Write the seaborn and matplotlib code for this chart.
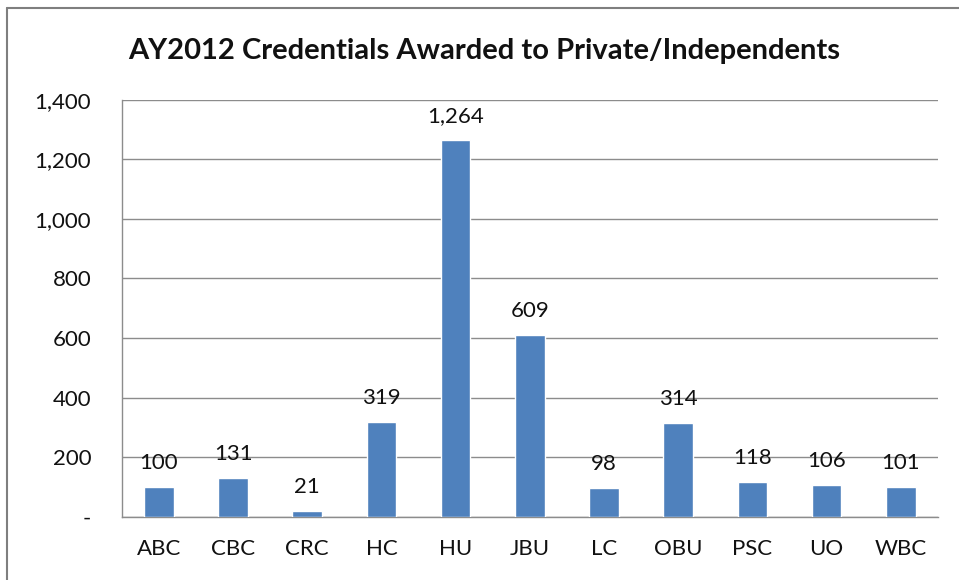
import numpy as np
import pandas as pd
import seaborn as sns
import matplotlib.pyplot as plt
import matplotlib.ticker as ticker
from matplotlib.lines import Line2D

# data
schools = ['ABC', 'CBC', 'CRC', 'HC', 'HU', 'JBU', 'LC', 'OBU', 'PSC', 'UO', 'WBC']
credentials = [100, 131, 21, 319, 1264, 609, 98, 314, 118, 106, 101]

df = pd.DataFrame({'school': schools, 'credentials': credentials})

sns.set_style('white')
plt.rcParams['font.family'] = ['Lato', 'DejaVu Sans']

fig = plt.figure(figsize=(9.59, 5.80), dpi=100)
ax = fig.add_axes([0.127, 0.109, 0.851, 0.719])

grid_col = '#8c8c8c'
sns.barplot(ax=ax, data=df, x='school', y='credentials', color='#4f81bd',
            saturation=1, width=0.4, zorder=3)

# value labels above bars
for p, v in zip(ax.patches, credentials):
    ax.annotate(f'{v:,}', xy=(p.get_x() + p.get_width() / 2, p.get_height()),
                xytext=(0, 10), textcoords='offset points',
                ha='center', va='bottom', fontsize=16, color='#111111')

ax.set_ylim(0, 1400)
ax.set_xlim(-0.5, len(schools) - 0.5)
ax.yaxis.set_major_locator(ticker.MultipleLocator(200))
ax.yaxis.set_major_formatter(ticker.FuncFormatter(lambda v, _: '-' if v == 0 else f'{v:,.0f}'))
ax.yaxis.grid(True, color=grid_col, lw=1)
ax.set_axisbelow(True)

# category boundary ticks on x axis
ax.set_xticks(np.arange(-0.5, len(schools)), minor=True)
ax.tick_params(axis='x', which='minor', length=7, width=1, color=grid_col, direction='out')
ax.tick_params(axis='x', which='major', length=0, labelsize=16, pad=16, colors='#111111')
ax.tick_params(axis='y', which='major', length=7, width=1, color=grid_col, direction='out',
               labelsize=16, pad=15, labelcolor='#111111')
ax.set_xlabel('')
ax.set_ylabel('')

for s in ['top', 'right']:
    ax.spines[s].set_visible(False)
for s in ['left', 'bottom']:
    ax.spines[s].set_color(grid_col)
    ax.spines[s].set_linewidth(1)

fig.suptitle('AY2012 Credentials Awarded to Private/Independents', x=0.505, y=0.935,
             fontsize=21, fontweight='bold', color='#111111')

# chart border (left and top edges visible)
fig.add_artist(Line2D([7 / 959, 7 / 959], [0, 1 - 8 / 580], transform=fig.transFigure,
                      color='#7f7f7f', lw=1.5))
fig.add_artist(Line2D([7 / 959, 1], [1 - 8 / 580, 1 - 8 / 580], transform=fig.transFigure,
                      color='#7f7f7f', lw=1.5))

plt.savefig('out.png', dpi=100)
